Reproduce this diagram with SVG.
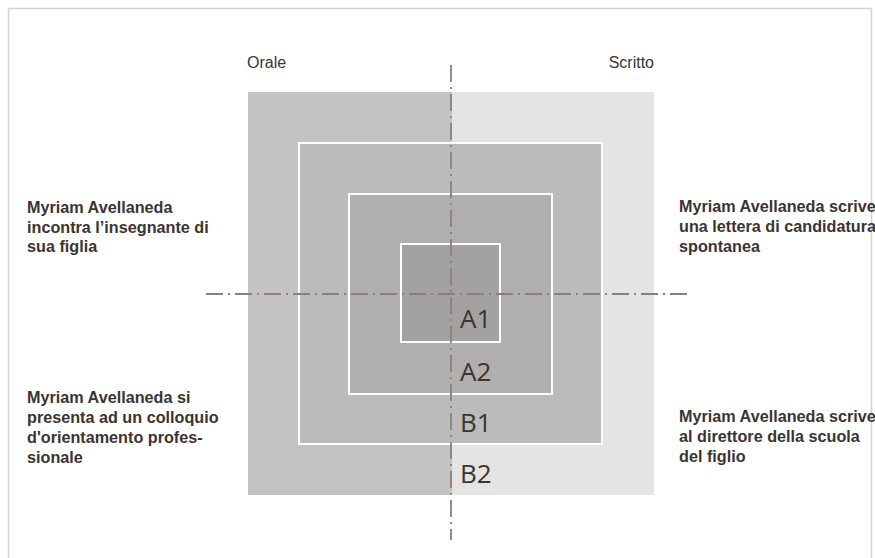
<svg xmlns="http://www.w3.org/2000/svg" width="875" height="558" viewBox="0 0 875 558">
<style>
.lbl{font-family:"Liberation Sans",Arial,sans-serif;font-size:16.2px;font-weight:bold;fill:#3b3431}
.axis{font-family:"Liberation Sans",Arial,sans-serif;font-size:16px;fill:#3b3431}
.lvl{font-family:"Open Sans","Liberation Sans",sans-serif;font-size:26px;fill:#3b3431}
.sq{stroke:#ffffff;stroke-width:2}
.dd{stroke:#86817c;stroke-width:1.8;fill:none;stroke-dasharray:17 5 2 5}
</style>
<rect x="0" y="0" width="875" height="558" fill="#ffffff"/>
<rect x="8.5" y="8.5" width="863" height="560" fill="none" stroke="#d3d3d3" stroke-width="1.5"/>
<g id="outer">
<rect x="248" y="92" width="204" height="403" fill="#c4c3c2"/>
<rect x="452" y="92" width="202" height="403" fill="#e4e4e3"/>
</g>
<g id="b1"><rect class="sq" x="299" y="143" width="303" height="301" fill="#bbbbba"/></g>
<g id="a2"><rect class="sq" x="349" y="194" width="203" height="200" fill="#b0afae"/></g>
<g id="a1"><rect class="sq" x="401" y="244" width="99" height="98" fill="#a3a2a1"/></g>
<g id="connectors">
<line class="dd" x1="206" y1="294" x2="692" y2="294"/>
<line class="dd" x1="451" y1="60" x2="451" y2="540" style="stroke-dashoffset:24"/>
</g>
<g id="levels">
<text class="lvl" x="460" y="328">A1</text>
<text class="lvl" x="460" y="381">A2</text>
<text class="lvl" x="460" y="432">B1</text>
<text class="lvl" x="460" y="483">B2</text>
</g>
<g id="axis-labels">
<text class="axis" x="247" y="68">Orale</text>
<text class="axis" x="654" y="68" text-anchor="end">Scritto</text>
</g>
<g id="tl">
<text class="lbl" x="27" y="213">Myriam Avellaneda</text>
<text class="lbl" x="27" y="233">incontra l’insegnante di</text>
<text class="lbl" x="27" y="252">sua figlia</text>
</g>
<g id="bl">
<text class="lbl" x="27" y="403">Myriam Avellaneda si</text>
<text class="lbl" x="27" y="423">presenta ad un colloquio</text>
<text class="lbl" x="27" y="443">d'orientamento profes-</text>
<text class="lbl" x="27" y="463">sionale</text>
</g>
<g id="tr">
<text class="lbl" x="679" y="212">Myriam Avellaneda scrive</text>
<text class="lbl" x="679" y="232">una lettera di candidatura</text>
<text class="lbl" x="679" y="252">spontanea</text>
</g>
<g id="br">
<text class="lbl" x="679" y="422">Myriam Avellaneda scrive</text>
<text class="lbl" x="679" y="442">al direttore della scuola</text>
<text class="lbl" x="679" y="462">del figlio</text>
</g>
</svg>
